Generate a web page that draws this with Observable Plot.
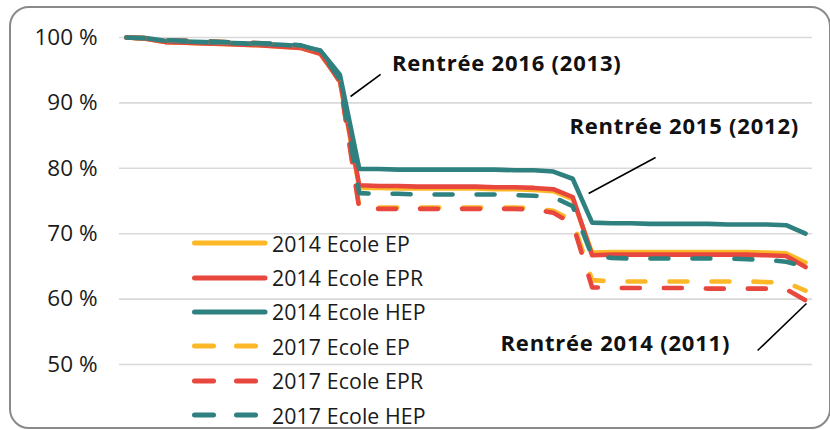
<!DOCTYPE html>
<html>
<head>
<meta charset="utf-8">
<script src="https://cdn.jsdelivr.net/npm/d3@7"></script>
<script src="https://cdn.jsdelivr.net/npm/@observablehq/plot@0.6"></script>
<style>
  html, body { margin: 0; padding: 0; background: #fff; }
  #wrap { position: relative; width: 830px; height: 430px; overflow: hidden; font-family: "Open Sans", sans-serif; }
  #frame { position: absolute; left: 9px; top: 6px; width: 822px; height: 423px; border: 2px solid #8a8a8a; border-radius: 20px; box-sizing: border-box; pointer-events: none; }
  #chart { position: absolute; left: 0; top: 0; }
  #legend { position: absolute; left: 191px; top: 226px; }
  .row { display: flex; align-items: center; height: 34.4px; }
  .row svg { margin-right: 3px; }
  .row span { font-size: 21.3px; color: #1a1a1a; letter-spacing: 0.1px; }
</style>
</head>
<body>
<div id="wrap"><div id="chart"></div><div id="legend"></div><div id="frame"></div></div>
<script>
// Step index along the school path (36 points)
const steps = d3.range(36);

const seriesNames = ["2014 Ecole EP", "2014 Ecole EPR", "2014 Ecole HEP", "2017 Ecole EP", "2017 Ecole EPR", "2017 Ecole HEP"];
const seriesColors = ["#FDB827", "#E8473E", "#2F8180", "#FDB827", "#E8473E", "#2F8180"];
const seriesDashed = [false, false, false, true, true, true];

const ep2014 = [100, 99.8, 99.3, 99.2, 99.1, 99.0, 98.9, 98.8, 98.6, 98.4, 97.5, 93.3, 77.0, 77.0, 76.9, 76.9, 76.9, 76.9, 76.9, 76.8, 76.8, 76.7, 76.5, 75.3, 67.1, 67.2, 67.2, 67.2, 67.2, 67.2, 67.2, 67.2, 67.2, 67.1, 67.0, 65.6];
const epr2014 = [100, 99.8, 99.3, 99.2, 99.1, 99.0, 98.9, 98.8, 98.6, 98.4, 97.5, 93.4, 77.4, 77.3, 77.3, 77.2, 77.2, 77.2, 77.2, 77.1, 77.1, 77.0, 76.8, 75.6, 66.7, 66.8, 66.8, 66.8, 66.8, 66.8, 66.8, 66.8, 66.8, 66.7, 66.6, 64.9];
const hep2014 = [100, 99.9, 99.5, 99.4, 99.3, 99.2, 99.1, 99.0, 98.9, 98.7, 98.0, 94.3, 79.9, 79.9, 79.8, 79.8, 79.8, 79.8, 79.8, 79.8, 79.7, 79.7, 79.5, 78.4, 71.7, 71.6, 71.6, 71.5, 71.5, 71.5, 71.5, 71.4, 71.4, 71.4, 71.3, 70.0];
const ep2017 = [100, 99.9, 99.6, 99.5, 99.4, 99.3, 99.2, 99.1, 98.9, 98.7, 97.8, 93.3, 74.0, 74.0, 74.0, 74.0, 74.0, 74.0, 74.0, 74.0, 74.0, 73.9, 73.5, 72.0, 62.9, 62.7, 62.7, 62.7, 62.7, 62.7, 62.7, 62.7, 62.7, 62.6, 62.5, 61.3];
const epr2017 = [100, 99.9, 99.6, 99.5, 99.4, 99.3, 99.2, 99.1, 98.9, 98.7, 97.8, 93.2, 73.8, 73.8, 73.8, 73.8, 73.8, 73.8, 73.8, 73.8, 73.8, 73.7, 73.2, 71.5, 61.8, 61.7, 61.7, 61.7, 61.7, 61.7, 61.6, 61.6, 61.6, 61.6, 61.5, 59.8];
const hep2017 = [100, 99.9, 99.6, 99.5, 99.4, 99.3, 99.2, 99.1, 99.0, 98.8, 97.9, 93.6, 76.2, 76.1, 76.1, 76.0, 76.0, 76.0, 76.0, 76.0, 75.9, 75.8, 75.6, 74.2, 66.6, 66.3, 66.2, 66.2, 66.2, 66.2, 66.2, 66.2, 66.1, 66.0, 65.7, 65.0];
const seriesValues = [ep2014, epr2014, hep2014, ep2017, epr2017, hep2017];

const yTicks = [50, 60, 70, 80, 90, 100];

// Annotations (data coordinates: step index, percent)
const annLabels = ["Rentrée 2016 (2013)", "Rentrée 2015 (2012)", "Rentrée 2014 (2011)"];
const annX = [19.6, 28.75, 25.2];
const annY = [96.0, 86.25, 53.2];
const leadX1 = [13.1, 27.27, 32.53];
const leadY1 = [94.35, 81.65, 52.14];
const leadX2 = [11.55, 23.82, 35.05];
const leadY2 = [90.98, 76.15, 59.33];

const ann = annLabels.map((t, i) => ({t, x: annX[i], y: annY[i], x1: leadX1[i], y1: leadY1[i], x2: leadX2[i], y2: leadY2[i]}));

const lineMarks = seriesNames.map((name, i) => Plot.lineY(steps, {
  x: d => d,
  y: d => seriesValues[i][d],
  stroke: seriesColors[i],
  strokeWidth: 4.6,
  strokeLinejoin: "round",
  strokeLinecap: "round",
  strokeDasharray: seriesDashed[i] ? "18,24" : null
}));

const chart = Plot.plot({
  width: 830,
  height: 430,
  marginLeft: 119,
  marginRight: 18,
  marginTop: 37,
  marginBottom: 66,
  style: {fontFamily: "Open Sans, sans-serif", background: "transparent"},
  x: {domain: [-0.36, 35.36], axis: null},
  y: {domain: [50, 100], ticks: yTicks, tickFormat: d => d + "\u00a0%", tickSize: 0, tickPadding: 22, label: null},
  marks: [
    Plot.ruleY(yTicks, {stroke: "#d9d9d9", strokeWidth: 1.6}),
    Plot.axisY({ticks: yTicks, tickFormat: d => d + "\u00a0%", tickSize: 0, tickPadding: 22, fontSize: 22.5, fill: "#1a1a1a", label: null}),
    ...lineMarks,
    Plot.link(ann, {x1: "x1", y1: "y1", x2: "x2", y2: "y2", stroke: "#000", strokeWidth: 1.6}),
    Plot.text(ann, {x: "x", y: "y", text: "t", fontWeight: "bold", fontSize: 22, fill: "#111", letterSpacing: "0.8px"})
  ]
});
chart.querySelectorAll("text").forEach(t => { if (t.getAttribute("font-weight") === "bold" || t.closest("[font-weight='bold']")) t.style.letterSpacing = "0.8px"; });
document.getElementById("chart").appendChild(chart);

// Legend inside the plot area
const legend = document.getElementById("legend");
seriesNames.forEach((name, i) => {
  const row = document.createElement("div");
  row.className = "row";
  const s = d3.create("svg").attr("width", 78).attr("height", 10);
  s.append("line").attr("x1", 3.5).attr("x2", 74).attr("y1", 5).attr("y2", 5)
    .attr("stroke", seriesColors[i]).attr("stroke-width", 5).attr("stroke-linecap", "round")
    .attr("stroke-dasharray", seriesDashed[i] ? "19,23" : null);
  row.appendChild(s.node());
  const sp = document.createElement("span");
  sp.textContent = name;
  row.appendChild(sp);
  legend.appendChild(row);
});
</script>
</body>
</html>
